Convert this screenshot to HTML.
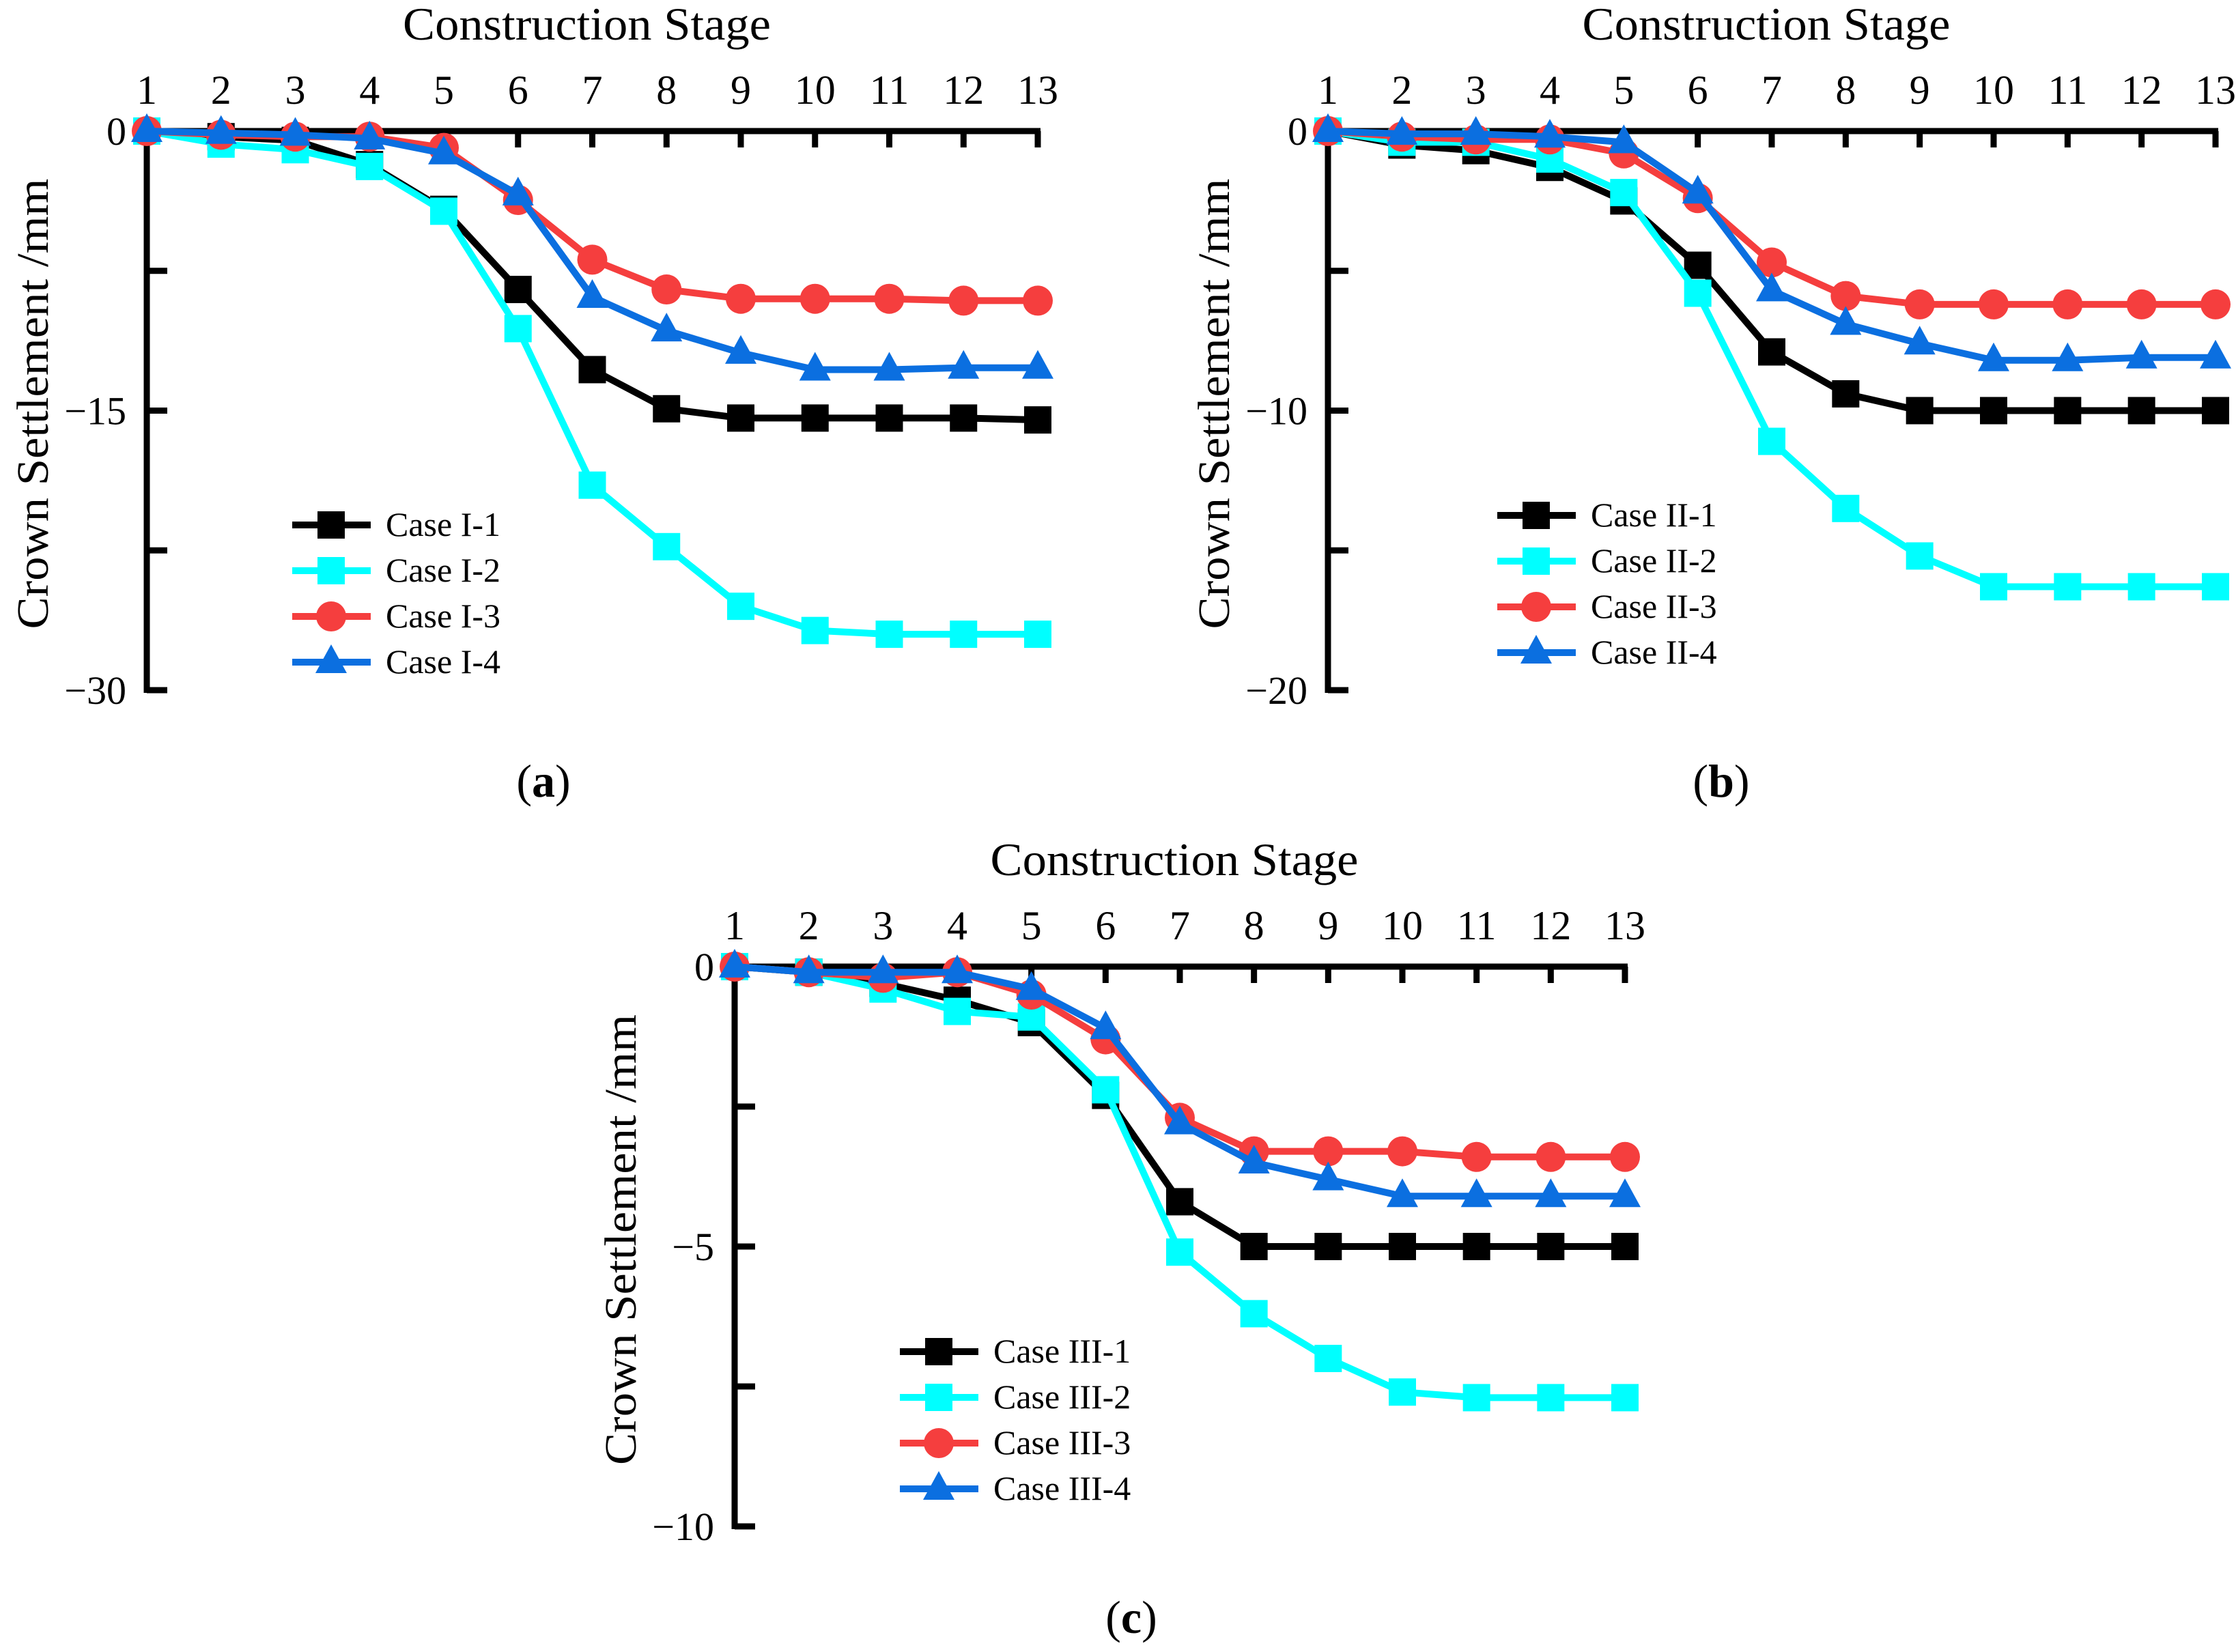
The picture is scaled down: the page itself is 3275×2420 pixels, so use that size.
<!DOCTYPE html>
<html><head><meta charset="utf-8">
<style>
html,body{margin:0;padding:0;background:#fff;}
svg{display:block;font-family:"Liberation Serif",serif;}
</style></head>
<body>
<svg id="fig" width="3275" height="2420" viewBox="0 0 3275 2420" xmlns="http://www.w3.org/2000/svg">
<rect width="3275" height="2420" fill="#fff"/>
</svg>
<script>
const stages = [1,2,3,4,5,6,7,8,9,10,11,12,13];
const aCase1 = [0,-0.3,-0.5,-1.8,-4.2,-8.5,-12.8,-14.9,-15.4,-15.4,-15.4,-15.4,-15.5];
const aCase2 = [0,-0.7,-1.0,-1.9,-4.3,-10.6,-19.0,-22.3,-25.5,-26.8,-27.0,-27.0,-27.0];
const aCase3 = [0,-0.2,-0.3,-0.3,-0.9,-3.7,-6.9,-8.5,-9.0,-9.0,-9.0,-9.1,-9.1];
const aCase4 = [0,-0.1,-0.2,-0.4,-1.2,-3.4,-8.9,-10.7,-11.9,-12.8,-12.8,-12.7,-12.7];
const bCase1 = [0,-0.5,-0.7,-1.3,-2.5,-4.8,-7.9,-9.4,-10,-10,-10,-10,-10];
const bCase2 = [0,-0.4,-0.4,-1.0,-2.2,-5.8,-11.1,-13.5,-15.2,-16.3,-16.3,-16.3,-16.3];
const bCase3 = [0,-0.2,-0.3,-0.3,-0.8,-2.4,-4.7,-5.9,-6.2,-6.2,-6.2,-6.2,-6.2];
const bCase4 = [0,-0.1,-0.1,-0.2,-0.4,-2.2,-5.7,-6.9,-7.6,-8.2,-8.2,-8.1,-8.1];
const cCase1 = [0,-0.1,-0.3,-0.6,-1.0,-2.3,-4.2,-5.0,-5.0,-5.0,-5.0,-5.0,-5.0];
const cCase2 = [0,-0.1,-0.4,-0.8,-0.9,-2.2,-5.1,-6.2,-7.0,-7.6,-7.7,-7.7,-7.7];
const cCase3 = [0,-0.1,-0.2,-0.1,-0.5,-1.3,-2.7,-3.3,-3.3,-3.3,-3.4,-3.4,-3.4];
const cCase4 = [0,-0.1,-0.1,-0.1,-0.4,-1.1,-2.8,-3.5,-3.8,-4.1,-4.1,-4.1,-4.1];
const aNames = ["Case I-1","Case I-2","Case I-3","Case I-4"];
const bNames = ["Case II-1","Case II-2","Case II-3","Case II-4"];
const cNames = ["Case III-1","Case III-2","Case III-3","Case III-4"];
const aYTicks = [0,-15,-30];
const bYTicks = [0,-10,-20];
const cYTicks = [0,-5,-10];

const NS = "http://www.w3.org/2000/svg";
const svg = document.getElementById("fig");
const colors = ["#000000","#00ffff","#f53e3e","#0b6fe0"];
const markers = ["square","square","circle","triangle"];
function mk(tag, attrs, parent){
  const e = document.createElementNS(NS, tag);
  for (const k in attrs) e.setAttribute(k, attrs[k]);
  (parent||svg).appendChild(e);
  return e;
}
function marker(g, type, x, y, color){
  let m;
  if (type==="square") m = mk("rect",{x:x-20,y:y-20,width:40,height:40,fill:color},g);
  else if (type==="circle") m = mk("circle",{cx:x,cy:y,r:22,fill:color},g);
  else m = mk("polygon",{points:`${x},${y-26} ${x+23},${y+16} ${x-23},${y+16}`,fill:color},g);
  
  
}
function panel(p){
  const {id,x0,x1,y0,y1,ymin,yTicks,series,names,leg,tag} = p;
  const g = mk("g",{});
  
  
  const X = s => x0 + (s-1)*(x1-x0)/12;
  const Y = v => y0 + (v/ymin)*(y1-y0);
  const ax = mk("line",{x1:x0,y1:y0,x2:x1+4,y2:y0,stroke:"#000","stroke-width":9},g);
  
  
  const ay = mk("line",{x1:x0,y1:y0-4,x2:x0,y2:y1+4,stroke:"#000","stroke-width":9},g);
  
  
  stages.forEach(s=>{
    const t = mk("line",{x1:X(s),y1:y0,x2:X(s),y2:y0+24,stroke:"#000","stroke-width":9},g);
    
    
    const tl = mk("text",{x:X(s),y:y0-40,"font-size":60,"text-anchor":"middle"},g);
    tl.textContent = s;
    
    
  });
  const ySteps = [yTicks[0],(yTicks[0]+yTicks[1])/2,yTicks[1],(yTicks[1]+yTicks[2])/2,yTicks[2]];
  ySteps.forEach(v=>{
    const t = mk("line",{x1:x0,y1:Y(v),x2:x0+30,y2:Y(v),stroke:"#000","stroke-width":9},g);
    
    
  });
  yTicks.forEach(v=>{
    const tl = mk("text",{x:x0-30,y:Y(v)+20,"font-size":58,"text-anchor":"end"},g);
    tl.textContent = v<0 ? "\u2212"+(-v) : v;
    
    
  });
  const xt = mk("text",{x:(x0+x1)/2 - 8,y:y0-134,"font-size":68,"text-anchor":"middle",textLength:539,lengthAdjust:"spacingAndGlyphs"},g);
  xt.textContent = "Construction Stage";
  
  
  const yc = (y0+y1)/2 - 10;
  const yx = x0-145;
  const yt = mk("text",{x:yx,y:yc,"font-size":66,"text-anchor":"middle",transform:`rotate(-90 ${yx} ${yc})`,textLength:660,lengthAdjust:"spacingAndGlyphs"},g);
  yt.textContent = "Crown Settlement /mm";
  
  
  series.forEach((vals,i)=>{
    const sg = mk("g",{},g);
    
    
    const pl = mk("polyline",{points:vals.map((v,k)=>X(stages[k])+","+Y(v)).join(" "),fill:"none",stroke:colors[i],"stroke-width":10,"stroke-linejoin":"round"},sg);
    
    
    vals.forEach((v,k)=>marker(sg,markers[i],X(stages[k]),Y(v),colors[i]));
  });
  const lg = mk("g",{},g);
  
  
  names.forEach((n,i)=>{
    const ly = leg.y + i*67;
    const ll = mk("line",{x1:leg.x,y1:ly,x2:leg.x+115,y2:ly,stroke:colors[i],"stroke-width":10},lg);
    
    
    marker(lg,markers[i],leg.x+57,ly,colors[i]);
    const lt = mk("text",{x:leg.x+137,y:ly+16,"font-size":50},lg);
    lt.textContent = n;
    
    
  });
  const pt = mk("text",{x:tag.x,y:tag.y,"font-size":68,"text-anchor":"middle"},g);
  pt.innerHTML = '(<tspan font-weight="bold">'+id+'</tspan>)';
  
  
}
panel({id:"a",x0:215,x1:1520,y0:192,y1:1011,ymin:-30,yTicks:aYTicks,series:[aCase1,aCase2,aCase3,aCase4],names:aNames,leg:{x:428,y:769},tag:{x:796,y:1167}});
panel({id:"b",x0:1945,x1:3245,y0:192,y1:1011,ymin:-20,yTicks:bYTicks,series:[bCase1,bCase2,bCase3,bCase4],names:bNames,leg:{x:2193,y:755},tag:{x:2521,y:1167}});
panel({id:"c",x0:1076,x1:2380,y0:1416,y1:2236,ymin:-10,yTicks:cYTicks,series:[cCase1,cCase2,cCase3,cCase4],names:cNames,leg:{x:1318,y:1980},tag:{x:1657,y:2392}});
</script>
</body></html>
